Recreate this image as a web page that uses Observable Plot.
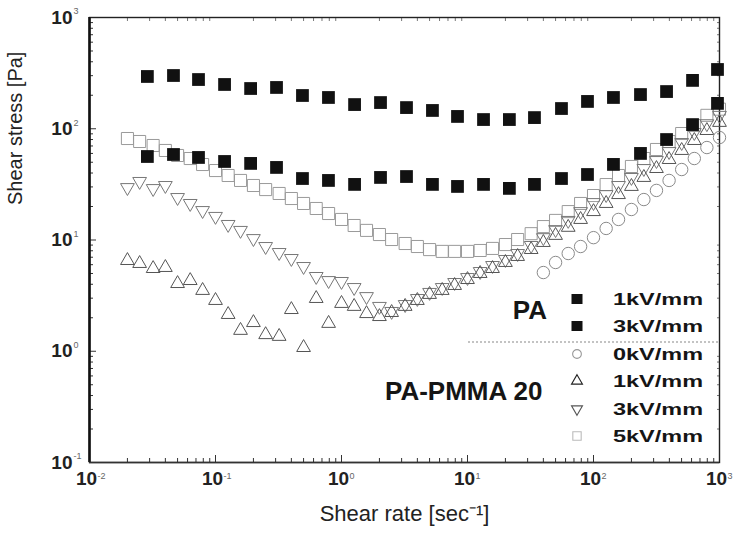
<!DOCTYPE html>
<html>
<head>
<meta charset="utf-8">
<script src="https://cdn.jsdelivr.net/npm/d3@7"></script>
<script src="https://cdn.jsdelivr.net/npm/@observablehq/plot@0.6"></script>
<style>
  html, body { margin: 0; padding: 0; background: #fff; }
  #chart { width: 736px; height: 541px; }
</style>
</head>
<body>
<div id="chart"></div>
<script>
// ---- PA (neat) : shear rate [1/s] and shear stress [Pa] ----
const paRate = [0.0288, 0.0464, 0.0733, 0.118, 0.190, 0.305, 0.490, 0.788, 1.27, 2.04, 3.28, 5.27,
                8.33, 13.4, 21.5, 34.0, 55.7, 89.6, 144, 236, 380, 611, 964];
const pa3kV = [295, 301, 277, 250, 230, 235, 199, 191, 165, 172, 155, 146,
               129, 121, 121, 126, 152, 176, 191, 203, 216, 272, 341];
const pa1kV = [56.3, 58.7, 55.2, 50.8, 48.8, 44.9, 35.7, 34.3, 31.6, 36.5, 37.2, 31.6,
               30.3, 31.6, 29.1, 31.6, 35.7, 38.8, 47.8, 60.0, 80.0, 109, 169];

// ---- PA-PMMA 20 blend ----
const blendRate = [0.02, 0.025, 0.032, 0.04, 0.05, 0.063, 0.079, 0.1, 0.126, 0.158,
                   0.2, 0.25, 0.32, 0.4, 0.5, 0.63, 0.79, 1, 1.26, 1.58,
                   2, 2.5, 3.2, 4, 5, 6.3, 7.9, 10, 12.6, 15.8,
                   20, 25, 32, 40, 50, 63, 79, 100, 126, 158,
                   200, 251, 316, 398, 501, 631, 794, 1000];
const blend5kV = [81.7, 76.8, 70.7, 63.8, 57.5, 54.0, 47.7, 42.1, 38.0, 34.3,
                  30.9, 28.4, 26.2, 23.6, 21.3, 19.2, 17.3, 15.3, 13.5, 12.2,
                  11.2, 10.1, 9.3, 8.74, 8.2, 7.9, 7.9, 7.9, 8.05, 8.4,
                  9.1, 10.1, 11.4, 13.2, 15.0, 18.0, 21.3, 25.1, 31.5, 38.0,
                  45.8, 54.0, 65.1, 76.8, 90.6, 107, 132, 150];
const blend3kV = [29.6, 33.6, 29.0, 30.9, 24.1, 21.3, 18.4, 16.3, 13.8, 12.2,
                  10.3, 8.74, 7.72, 6.82, 5.78, 4.70, 4.32, 4.24, 3.74, 3.10,
                  2.53, 2.28, 2.63, 2.98, 3.38, 3.74, 4.15, 4.60, 5.21, 5.90,
                  6.68, 7.56, 8.93, 10.5, 12.4, 15.0, 18.0, 21.7, 25.6, 30.9,
                  36.5, 43.9, 51.8, 62.4, 75.2, 92.5, 111, 132];
const blend1kV = [6.54, 6.15, 5.54, 5.66, 4.06, 4.32, 3.52, 2.86, 2.14, 1.54,
                  1.81, 1.41, 1.36, 2.37, 1.08, 2.98, 1.78, 2.69, 2.53, 2.18,
                  2.05, 2.23, 2.53, 2.86, 3.24, 3.52, 3.90, 4.41, 5.00, 5.54,
                  6.28, 7.11, 8.21, 9.50, 11.0, 13.0, 15.3, 18.0, 21.3, 25.6,
                  30.3, 36.5, 43.9, 52.9, 63.8, 78.4, 96.4, 114];
const blend0kVRate = [40, 50, 63, 79, 100, 126, 158, 200, 251, 316, 398, 501, 631, 794, 1000];
const blend0kV = [5.10, 6.28, 7.56, 8.74, 10.5, 12.7, 15.3, 18.8, 23.1, 27.9, 34.3, 43.0, 54.0, 67.8, 83.4];

// ---- axis ticks ----
const xMajor = [0.01, 0.1, 1, 10, 100, 1000];
const xExp = ["-2", "-1", "0", "1", "2", "3"];
const yMajor = [0.1, 1, 10, 100, 1000];
const yExp = ["-1", "0", "1", "2", "3"];
const minorOf = (majors) => majors.slice(0, -1).flatMap(m => d3.range(2, 10).map(k => k * m));
const xMinor = minorOf(xMajor);
const yMinor = minorOf(yMajor);

// ---- legend entries ----
const legendPA = ["1kV/mm", "3kV/mm"];
const legendBlend = ["0kV/mm", "1kV/mm", "3kV/mm", "5kV/mm"];

// triangle symbols (side derived from the dot size)
const triUp = {
  draw(ctx, size) {
    const s = 2.75 * Math.sqrt(size / Math.PI), h = s * Math.sqrt(3) / 2;
    ctx.moveTo(0, -2 * h / 3); ctx.lineTo(s / 2, h / 3); ctx.lineTo(-s / 2, h / 3); ctx.closePath();
  }
};
const triDown = {
  draw(ctx, size) {
    const s = 2.75 * Math.sqrt(size / Math.PI), h = s * Math.sqrt(3) / 2;
    ctx.moveTo(0, 2 * h / 3); ctx.lineTo(s / 2, -h / 3); ctx.lineTo(-s / 2, -h / 3); ctx.closePath();
  }
};

const tickOpts = {fill: "none", label: null, stroke: "#333", strokeWidth: 1};
const font = "'Liberation Sans', Arial, sans-serif";

const chart = Plot.plot({
  width: 736,
  height: 541,
  marginTop: 17,
  marginRight: 17,
  marginBottom: 79,
  marginLeft: 89,
  x: {type: "log", domain: [0.01, 1000], axis: null},
  y: {type: "log", domain: [0.1, 1000], axis: null},
  style: {fontFamily: font, color: "#111", background: "#fff", overflow: "visible"},
  marks: [
    // inward ticks
    Plot.axisX(xMinor, {anchor: "bottom", tickSize: -4, ...tickOpts}),
    Plot.axisX(xMajor, {anchor: "bottom", tickSize: -7, ...tickOpts}),
    Plot.axisX(xMinor, {anchor: "top", tickSize: -3, ...tickOpts, stroke: "#777"}),
    Plot.axisY(yMinor, {anchor: "left", tickSize: -4, ...tickOpts}),
    Plot.axisY(yMajor, {anchor: "left", tickSize: -7, ...tickOpts}),
    Plot.axisY(yMinor, {anchor: "right", tickSize: -3, ...tickOpts, stroke: "#777"}),
    Plot.frame({stroke: "#222", strokeWidth: 1.4}),
    Plot.ruleX([0.01], {stroke: "#111", strokeWidth: 2.6}),
    Plot.ruleY([0.1], {stroke: "#333", strokeWidth: 1.6}),

    // tick labels: "10" with a small exponent
    Plot.text(xMajor, {x: d => d, frameAnchor: "bottom", text: () => "10", dy: 22, dx: -3,
                       fontSize: 19, fontWeight: "bold", fill: "#222"}),
    Plot.text(xMajor, {x: d => d, frameAnchor: "bottom", text: (d, i) => xExp[i], dy: 16, dx: 8,
                       textAnchor: "start", fontSize: 9, fill: "#666"}),
    Plot.text(yMajor, {y: d => d, frameAnchor: "left", text: () => "10", dx: -17, textAnchor: "end",
                       fontSize: 19, fontWeight: "bold", fill: "#222"}),
    Plot.text(yMajor, {y: d => d, frameAnchor: "left", text: (d, i) => yExp[i], dx: -16, dy: -6,
                       textAnchor: "start", fontSize: 9, fill: "#666"}),

    // axis titles
    Plot.text(["Shear stress [Pa]"], {frameAnchor: "left", dx: -74, dy: -35, rotate: -90,
                                      fontSize: 20, fill: "#222"}),
    Plot.text(["Shear rate [sec\u207B\u00B9]"], {frameAnchor: "bottom", dy: 58, fontSize: 22, fill: "#222"}),

    // PA-PMMA 20 series (open symbols)
    Plot.dot(blendRate, {x: d => d, y: (d, i) => blend5kV[i], symbol: "square", r: 6.8,
                         fill: "none", stroke: "#9a9a9a", strokeWidth: 1}),
    Plot.dot(blendRate, {x: d => d, y: (d, i) => blend3kV[i], symbol: triDown, r: 5,
                         fill: "none", stroke: "#777", strokeWidth: 1}),
    Plot.dot(blendRate, {x: d => d, y: (d, i) => blend1kV[i], symbol: triUp, r: 5,
                         fill: "none", stroke: "#555", strokeWidth: 1}),
    Plot.dot(blend0kVRate, {x: d => d, y: (d, i) => blend0kV[i], symbol: "circle", r: 6.2,
                            fill: "none", stroke: "#8a8a8a", strokeWidth: 1}),

    // PA series (filled squares)
    Plot.dot(paRate, {x: d => d, y: (d, i) => pa1kV[i], symbol: "square", r: 7.2, fill: "#111"}),
    Plot.dot(paRate, {x: d => d, y: (d, i) => pa3kV[i], symbol: "square", r: 7.2, fill: "#111"})
  ]
});

document.getElementById("chart").appendChild(chart);

// ---- legend, drawn inside the plot frame ----
const svg = d3.select(chart);
const lg = svg.append("g").attr("font-family", font).attr("fill", "#151515").attr("text-anchor", "start");
const symX = 577, labX = 613;
const rowsPA = [299, 326];
const rowsBlend = [354, 381, 409, 436];

lg.append("text").attr("x", 547).attr("y", 310).attr("text-anchor", "end")
  .attr("dominant-baseline", "central").attr("font-size", 26).attr("font-weight", "bold").text("PA");
lg.append("text").attr("x", 385).attr("y", 391).attr("text-anchor", "start").attr("dominant-baseline", "central")
  .attr("font-size", 26).attr("font-weight", "bold").text("PA-PMMA 20");

rowsPA.forEach((yy, i) => {
  lg.append("rect").attr("x", symX - 5.5).attr("y", yy - 5).attr("width", 11).attr("height", 10).attr("fill", "#111");
  lg.append("text").attr("x", labX).attr("y", yy).attr("text-anchor", "start").attr("dominant-baseline", "central")
    .attr("font-size", 16).attr("font-weight", "bold")
    .attr("textLength", 90).attr("lengthAdjust", "spacingAndGlyphs").text(legendPA[i]);
});

lg.append("line").attr("x1", 468).attr("x2", 719).attr("y1", 342).attr("y2", 342)
  .attr("stroke", "#888").attr("stroke-width", 1.2).attr("stroke-dasharray", "2,2");

const legendSymbols = [
  {sym: d3.symbolCircle, size: 60, stroke: "#999"},
  {sym: triUp, size: 50, stroke: "#222"},
  {sym: triDown, size: 50, stroke: "#555"},
  {sym: d3.symbolSquare, size: 70, stroke: "#bbb"}
];
rowsBlend.forEach((yy, i) => {
  const s = legendSymbols[i];
  lg.append("path").attr("transform", `translate(${symX},${yy})`)
    .attr("d", d3.symbol(s.sym, s.size)()).attr("fill", "none")
    .attr("stroke", s.stroke).attr("stroke-width", 1.1);
  lg.append("text").attr("x", labX).attr("y", yy).attr("text-anchor", "start").attr("dominant-baseline", "central")
    .attr("font-size", 16).attr("font-weight", "bold")
    .attr("textLength", 90).attr("lengthAdjust", "spacingAndGlyphs").text(legendBlend[i]);
});
</script>
</body>
</html>
